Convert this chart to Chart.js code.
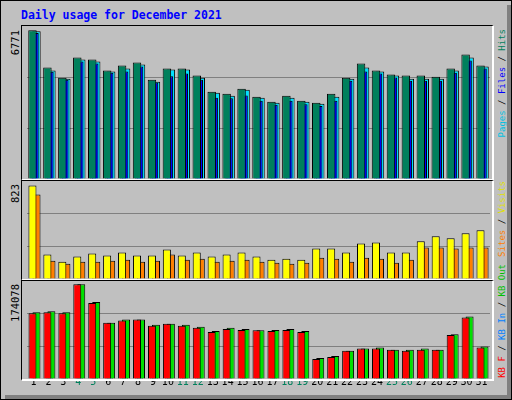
<!DOCTYPE html>
<html>
<head>
<meta charset="utf-8">
<script src="https://cdn.jsdelivr.net/npm/chart.js@4/dist/chart.umd.min.js"></script>
<style>
  body { margin: 0; background: #fff; }
  #frame { position: absolute; left: 0; top: 0; width: 510px; height: 398px; background: #c0c0c0; border: 1px solid #000; overflow: hidden; font-family: "DejaVu Sans Mono", monospace; }
  #shadowR { position: absolute; left: 506px; top: 4px; width: 4px; height: 394px; background: #808080; }
  #shadowB { position: absolute; left: 4px; top: 394px; width: 506px; height: 4px; background: #808080; }
  .panel { position: absolute; left: 20px; width: 470px; border-left: 1px solid #000; border-top: 1px solid #000; border-right: 2px solid #fff; border-bottom: 2px solid #fff; }
  .panel canvas { position: absolute; left: 0; top: 0; }
  .vt { position: absolute; writing-mode: vertical-rl; transform: rotate(180deg); white-space: nowrap; font-size: 9px; line-height: 10px; }
  #title { position: absolute; left: 20px; top: 7px; color: #0000ff; font-weight: bold; font-size: 11.5px; }
</style>
</head>
<body>
<div id="frame">
  <div id="shadowR"></div><div id="shadowB"></div>
  <div id="title">Daily usage for December 2021</div>
  <div class="panel" style="top:24px;height:153px"><canvas id="c1" width="470" height="153"></canvas></div>
  <div class="panel" style="top:179px;height:98px"><canvas id="c2" width="470" height="98"></canvas></div>
  <div class="panel" style="top:279px;height:98px"><canvas id="c3" width="470" height="98"></canvas></div>
  <div class="vt" style="left:8px;top:29px;font-size:10.5px;line-height:12px">6771</div>
  <div class="vt" style="left:8px;top:183px;font-size:10.5px;line-height:12px">823</div>
  <div class="vt" style="left:8px;top:283px;font-size:10.5px;line-height:12px">174078</div>
  <div class="vt" style="left:496px;top:28px"><span style="color:#00c0e0">Pages</span> / <span style="color:#0000ff">Files</span> / <span style="color:#00805c">Hits</span></div>
  <div class="vt" style="left:496px;top:180px"><span style="color:#ff8000">Sites</span> / <span style="color:#e0e000">Visits</span></div>
  <div class="vt" style="left:496px;top:263px"><span style="color:#ff0000">KB F</span> / <span style="color:#0080ff">KB In</span> / <span style="color:#00c000">KB Out</span></div>
  <div class="panel" style="top:380px;height:18px;border:none"><canvas id="c4" width="470" height="18"></canvas></div>
</div>
<script>
const days = ['1','2','3','4','5','6','7','8','9','10','11','12','13','14','15','16','17','18','19','20','21','22','23','24','25','26','27','28','29','30','31'];
const weekendDays = ['4','5','11','12','18','19','25','26'];

const hits  = [6771,5075,4616,5533,5441,4937,5166,5304,4524,5029,5029,4708,3974,3883,4112,3745,3516,3791,3562,3470,3883,4616,5258,4937,4754,4708,4708,4662,5029,5670,5166];
const files = [6650,4890,4520,5350,5260,4840,4900,5120,4400,4680,4800,4520,3700,3680,3800,3560,3380,3560,3400,3330,3560,4480,4900,4800,4620,4480,4480,4480,4840,5400,5030];
const pages = [6725,4937,4570,5441,5350,4891,5029,5212,4433,4983,4983,4616,3929,3791,4066,3699,3470,3699,3516,3424,3745,4570,5075,4891,4708,4570,4570,4570,4937,5533,5120];

const visits = [823,215,152,197,224,206,233,206,206,259,206,233,197,215,233,197,170,179,170,268,268,233,313,322,233,233,331,376,358,403,429];
const sites  = [743,161,134,152,152,161,170,152,161,215,170,179,152,161,170,152,143,134,143,188,179,152,188,179,143,170,277,277,268,277,277];

const kbF   = [120707,122613,120707,174078,139766,103554,107366,109272,97836,101648,97836,94024,86401,92119,90213,89577,88307,90213,86401,36847,40659,52095,55906,55906,54001,52095,54001,54001,80683,113083,57812];
const kbIn  = [600,200,200,200,200,200,200,200,200,200,200,200,200,200,200,200,200,200,200,200,200,200,200,200,200,200,200,200,200,200,200];
const kbOut = [122600,124500,122600,174078,141600,103554,109200,109272,99700,101648,99700,95900,88300,94000,92100,89577,90200,92100,88300,38700,42500,52095,55906,57800,54001,54001,55900,54001,82500,115000,59700];

const yMax = [6968, 862, 180170];

// bars overlap: each dataset slot is narrow, bar wider than its slot
function panel(id, datasets, max, cat, barPct) {
  new Chart(document.getElementById(id), {
    type: 'bar',
    data: { labels: days, datasets: datasets.map(d => ({
      data: d.data, backgroundColor: d.color, borderColor: '#000', borderWidth: 1,
      borderSkipped: 'bottom', categoryPercentage: cat, barPercentage: barPct
    })) },
    options: {
      responsive: false, animation: false,
      layout: { padding: { left: 5, right: 2, top: 0, bottom: 0 } },
      plugins: { legend: { display: false }, tooltip: { enabled: false } },
      scales: {
        x: { display: false, offset: true },
        y: {
          min: 0, max: max,
          afterBuildTicks: ax => { ax.ticks = [0, max / 3, 2 * max / 3, max].map(v => ({ value: v })); },
          ticks: { display: false },
          border: { display: false },
          grid: { drawTicks: false, color: ctx => (ctx.index === 1 || ctx.index === 2) ? '#808080' : 'rgba(0,0,0,0)', lineWidth: 1 }
        }
      }
    }
  });
}

panel('c1', [
  { data: hits, color: '#00805c' },
  { data: files, color: '#0000ff' },
  { data: pages, color: '#00e0ff' }
], yMax[0], 0.4, 4.25);

panel('c2', [
  { data: visits, color: '#ffff00' },
  { data: sites, color: '#ff8000' }
], yMax[1], 0.54, 2);

panel('c3', [
  { data: kbF, color: '#ff0000' },
  { data: kbIn, color: '#0080ff' },
  { data: kbOut, color: '#00e000' }
], yMax[2], 0.4, 4);

// day labels
new Chart(document.getElementById('c4'), {
  type: 'bar',
  data: { labels: days, datasets: [{ data: days.map(() => 0) }] },
  options: {
    responsive: false, animation: false,
    layout: { padding: { left: 5, right: 2, top: 0, bottom: 0 } },
    plugins: { legend: { display: false }, tooltip: { enabled: false } },
    scales: {
      x: {
        offset: true, position: 'top', border: { display: false },
        grid: { display: false, drawTicks: false },
        ticks: {
          autoSkip: false, maxRotation: 0, padding: 2,
          font: { family: 'DejaVu Sans Mono', size: 10 },
          color: ctx => weekendDays.includes(days[ctx.index]) ? '#00805c' : '#000'
        }
      },
      y: { display: false }
    }
  }
});
</script>
</body>
</html>
